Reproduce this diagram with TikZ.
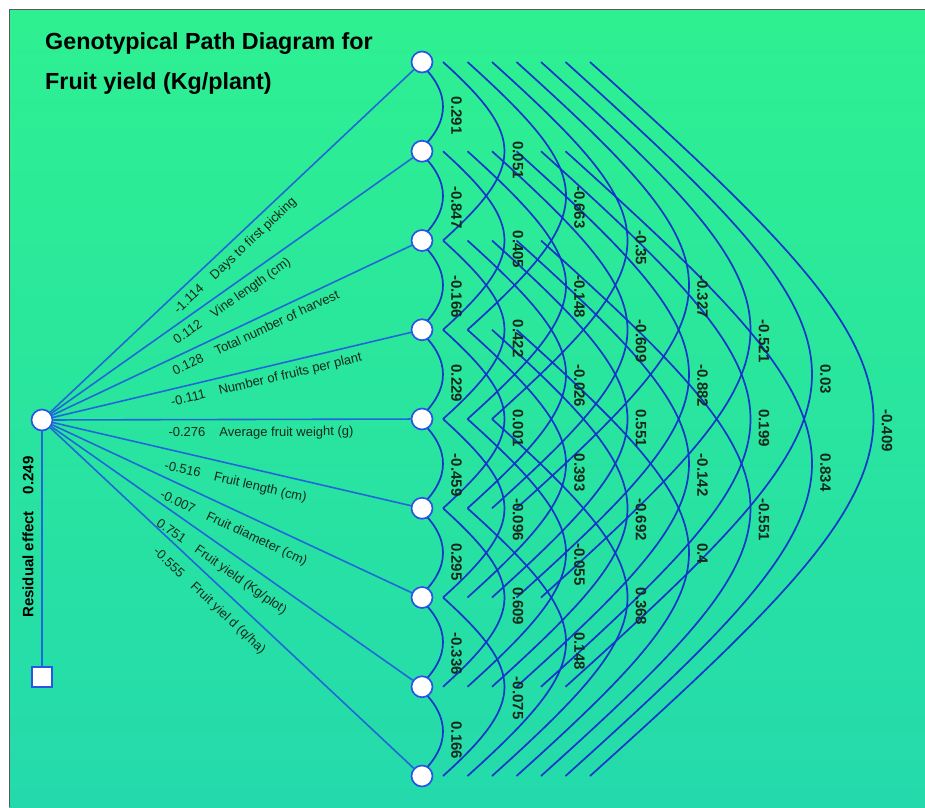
\documentclass[tikz,border=0pt]{standalone}
\usepackage{fontspec}
\setmainfont{Liberation Sans}
\usetikzlibrary{calc}
\definecolor{bgtop}{RGB}{46,240,145}
\definecolor{bgbot}{RGB}{36,218,172}
\definecolor{pathblue}{RGB}{30,105,215}
\definecolor{arcblue}{RGB}{15,55,200}
\definecolor{ringblue}{RGB}{40,85,230}
\definecolor{lbltext}{RGB}{20,40,30}
\pgfdeclarelayer{backdrop}
\pgfdeclarelayer{wires}
\pgfsetlayers{backdrop,wires,main}
\newcommand{\corrarc}[3]{%
  \pgfmathsetmacro{\xo}{24.5*(#2-1)-3.5}
  \pgfmathsetmacro{\cx}{4/3*(24.5+37*(#2-1))}
  \pgfmathsetmacro{\cy}{0.9*\cx}
  \pgfmathsetmacro{\xl}{21+61.5*(#2-1)+8}
  \pgfmathtruncatemacro{\nb}{#1+#2}
  \begin{pgfonlayer}{wires}
    \draw[corrline] ($(n#1)+(\xo,0)$) .. controls +(\cx,\cy) and +(\cx,-\cy) .. ($(n\nb)+(\xo,0)$);
  \end{pgfonlayer}
  \node[corr] at ($(n#1)!.5!(n\nb)+(\xl,-10)$) {#3};
}

\begin{document}
\begin{tikzpicture}[x=1pt,y=-1pt,
    trait/.style={circle,draw=ringblue,fill=white,line width=1.7pt,minimum size=21pt,inner sep=0pt},
    resid/.style={rectangle,draw=ringblue,fill=white,line width=1.7pt,minimum size=20pt,inner sep=0pt},
    link/.style={draw=pathblue,line width=1.6pt},
    corrline/.style={draw=arcblue,line width=1.7pt},
    corr/.style={rotate=-90,anchor=south west,inner sep=0pt,text=lbltext,font=\fontsize{15}{15}\selectfont\bfseries},
    plabel/.style={pos=.32,sloped,anchor=north west,inner xsep=0pt,text=lbltext,font=\fontsize{13}{13}\selectfont}]
  \useasboundingbox (0,0) rectangle (925,807);
  \begin{pgfonlayer}{backdrop}
    \shade[top color=bgtop,bottom color=bgbot] (9,9) rectangle (925,807);
    \draw[gray!70!black,line width=1.5pt] (9.5,807) |- (925,9.5);
  \end{pgfonlayer}

  \node[anchor=north west,inner sep=0pt,align=left,font=\fontsize{23.3}{40}\selectfont\bfseries] (title) at (45,32)
    {Genotypical Path Diagram for\\Fruit yield (Kg/plant)};

  \node[trait] (yld) at (42,420) {};
  \node[resid] (res) at (42,677) {};
  \node[rotate=90,anchor=west,inner sep=0pt,font=\fontsize{15}{15}\selectfont\bfseries] (residtxt) at (28,618)
    {Residual effect\hspace{17pt}0.249};
  \foreach \i in {1,...,9}
    \node[trait] (n\i) at (422,{62+89.25*(\i-1)}) {};

  \begin{pgfonlayer}{wires}
    \draw[link] (yld) -- (res);
    \foreach \i/\v/\t/\ys in {1/-1.114/{Days to first picking}/6.5,2/0.112/{Vine length (cm)}/6.5,
        3/0.128/{Total number of harvest}/6.5,4/-0.111/{Number of fruits per plant}/6.5,
        5/-0.276/{Average fruit weight (g)}/6.5,6/-0.516/{Fruit length (cm)}/10,
        7/-0.007/{Fruit diameter (cm)}/10.5,8/0.751/{Fruit yield (Kg/plot)}/10.5,9/-0.555/{Fruit yiel d (q/ha)}/11}
      \draw[link] (yld) -- node[plabel,inner ysep=\ys pt] {\v\hspace{14pt}\t} (n\i);
  \end{pgfonlayer}

  \foreach \i/\k/\val in {1/1/0.291,2/1/-0.847,3/1/-0.166,4/1/0.229,5/1/-0.459,6/1/0.295,7/1/-0.336,8/1/0.166,
      1/2/0.051,2/2/0.405,3/2/0.422,4/2/0.001,5/2/-0.096,6/2/0.609,7/2/-0.075,
      1/3/-0.663,2/3/-0.148,3/3/-0.026,4/3/0.393,5/3/-0.055,6/3/0.148,
      1/4/-0.35,2/4/-0.609,3/4/0.551,4/4/-0.692,5/4/0.368,
      1/5/-0.327,2/5/-0.882,3/5/-0.142,4/5/0.4,
      1/6/-0.521,2/6/0.199,3/6/-0.551,
      1/7/0.03,2/7/0.834,
      1/8/-0.409}
    \corrarc{\i}{\k}{\val};
\end{tikzpicture}
\end{document}
